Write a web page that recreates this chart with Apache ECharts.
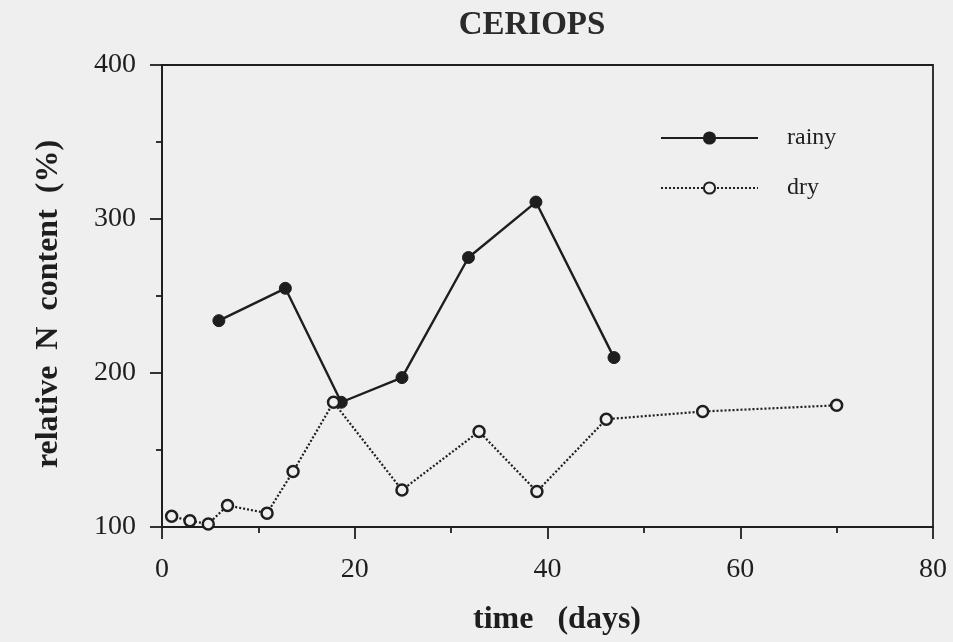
<!DOCTYPE html>
<html>
<head>
<meta charset="utf-8">
<script src="https://cdn.jsdelivr.net/npm/echarts@6/dist/echarts.min.js"></script>
<style>html,body{margin:0;padding:0;background:#efefef;}#c{width:953px;height:642px;}</style>
</head>
<body>
<div id="c"></div>
<script>
const rainyDays = [5.9, 12.8, 18.6, 24.9, 31.8, 38.8, 46.9];
const rainyValues = [234, 255, 181, 197, 275, 311, 210];
const dryDays = [1.0, 2.9, 4.8, 6.8, 10.9, 13.6, 17.8, 24.9, 32.9, 38.9, 46.1, 56.1, 70.0];
const dryValues = [107, 104, 102, 114, 109, 136, 181, 124, 162, 123, 170, 175, 179];
const xTickLabels = [0, 20, 40, 60, 80];
const yTickLabels = [100, 200, 300, 400];

const font = 'Liberation Serif';
const ink = '#1e1e1e';
const chart = echarts.init(document.getElementById('c'), null, {renderer: 'canvas'});
chart.setOption({
  backgroundColor: '#efefef',
  animation: false,
  title: {
    text: 'CERIOPS', left: 527, top: 4, textAlign: 'center',
    textStyle: {fontFamily: font, fontSize: 33, fontWeight: 'bold', color: '#2a2a2a'}
  },
  legend: {
    orient: 'vertical', left: 655, top: 121, itemGap: 26,
    itemWidth: 97, itemHeight: 14,
    textStyle: {fontFamily: font, fontSize: 24, color: ink, padding: [0, 0, 0, 24]},
    data: ['rainy', 'dry']
  },
  grid: {
    left: 162, right: 20, top: 65, bottom: 115, show: true,
    borderColor: ink, borderWidth: 1.8, backgroundColor: 'transparent'
  },
  xAxis: {
    type: 'value', min: 0, max: 80, interval: 20,
    name: 'time   (days)', nameLocation: 'middle', nameGap: 77,
    nameTextStyle: {fontFamily: font, fontSize: 32, fontWeight: 'bold', color: ink, padding: [0, 0, 0, 19]},
    axisLine: {lineStyle: {color: ink, width: 1.8}},
    axisTick: {show: true, length: 12, lineStyle: {color: ink, width: 1.8}},
    minorTick: {show: true, splitNumber: 2, length: 6, lineStyle: {color: ink, width: 1.8}},
    axisLabel: {
      margin: 29, fontFamily: font, fontSize: 28, color: ink,
      formatter: v => xTickLabels.indexOf(v) >= 0 ? String(v) : ''
    },
    splitLine: {show: false}
  },
  yAxis: {
    type: 'value', min: 100, max: 400, interval: 100,
    name: 'relative  N  content  (%)', nameLocation: 'middle', nameGap: 97,
    nameTextStyle: {fontFamily: font, fontSize: 32, fontWeight: 'bold', color: ink, padding: [0, 16, 0, 0]},
    axisLine: {show: true, lineStyle: {color: ink, width: 1.8}},
    axisTick: {show: true, length: 12, lineStyle: {color: ink, width: 1.8}},
    minorTick: {show: true, splitNumber: 2, length: 6, lineStyle: {color: ink, width: 1.8}},
    axisLabel: {
      margin: 26, fontFamily: font, fontSize: 28, color: ink,
      formatter: v => yTickLabels.indexOf(v) >= 0 ? String(v) : ''
    },
    splitLine: {show: false}
  },
  series: [
    {
      name: 'rainy', type: 'line',
      data: rainyDays.map((d, i) => [d, rainyValues[i]]),
      symbol: 'circle', symbolSize: 12,
      lineStyle: {color: ink, width: 2.4},
      itemStyle: {color: ink, borderColor: ink, borderWidth: 1}
    },
    {
      name: 'dry', type: 'line',
      data: dryDays.map((d, i) => [d, dryValues[i]]),
      symbol: 'circle', symbolSize: 11,
      lineStyle: {color: ink, width: 2.2, type: [2, 2]},
      itemStyle: {color: '#efefef', borderColor: ink, borderWidth: 2.5}
    }
  ]
});
</script>
</body>
</html>
